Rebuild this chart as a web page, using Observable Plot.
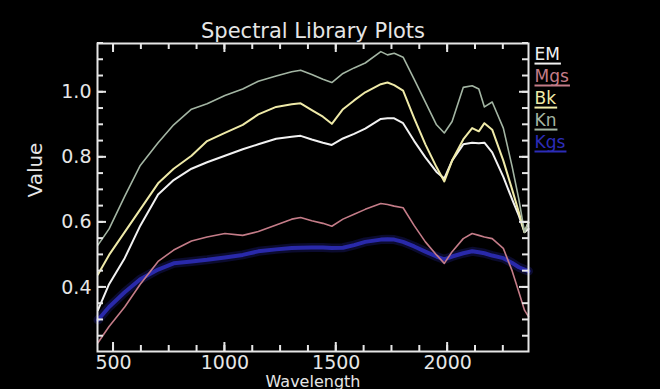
<!DOCTYPE html>
<html><head><meta charset="utf-8">
<script src="https://cdn.jsdelivr.net/npm/d3@7"></script>
<script src="https://cdn.jsdelivr.net/npm/@observablehq/plot@0.6"></script>
<style>
html,body{margin:0;padding:0;background:#000;}
#chart{width:660px;height:389px;overflow:hidden}
</style></head><body><div id="chart"></div>
<script>
const title = "Spectral Library Plots";
const xLabel = "Wavelength";
const yLabel = "Value";
const seriesNames = ["EM", "Mgs", "Bk", "Kn", "Kgs"];
const seriesColors = ["#f2f2f2", "#c47c88", "#efeaa8", "#a3b5a3", "#2c2cb8"];

const wavelength = [430, 480, 550, 620, 700, 770, 850, 920, 1000, 1080, 1150, 1230, 1300, 1340, 1390, 1440, 1480, 1530, 1580, 1630, 1700, 1730, 1760, 1800, 1850, 1900, 1950, 1985, 2020, 2070, 2110, 2140, 2165, 2200, 2250, 2290, 2320, 2345, 2363];
const emValues  = [0.33, 0.41, 0.49, 0.59, 0.686, 0.73, 0.765, 0.785, 0.805, 0.825, 0.84, 0.857, 0.863, 0.866, 0.855, 0.845, 0.838, 0.858, 0.872, 0.888, 0.918, 0.92, 0.92, 0.905, 0.85, 0.80, 0.755, 0.735, 0.79, 0.84, 0.845, 0.843, 0.845, 0.815, 0.74, 0.67, 0.62, 0.57, 0.58];
const mgsValues = [0.23, 0.28, 0.34, 0.41, 0.48, 0.515, 0.543, 0.555, 0.566, 0.56, 0.572, 0.592, 0.61, 0.615, 0.605, 0.597, 0.588, 0.61, 0.625, 0.64, 0.658, 0.655, 0.65, 0.645, 0.59, 0.54, 0.50, 0.474, 0.51, 0.55, 0.566, 0.56, 0.555, 0.55, 0.52, 0.45, 0.385, 0.33, 0.31];
const bkValues  = [0.44, 0.50, 0.57, 0.64, 0.72, 0.765, 0.805, 0.85, 0.875, 0.90, 0.932, 0.955, 0.963, 0.966, 0.945, 0.925, 0.903, 0.948, 0.975, 1.0, 1.025, 1.03, 1.022, 1.005, 0.92, 0.84, 0.77, 0.726, 0.79, 0.855, 0.89, 0.88, 0.905, 0.885, 0.79, 0.70, 0.63, 0.57, 0.60];
const knValues  = [0.53, 0.58, 0.68, 0.775, 0.845, 0.90, 0.948, 0.965, 0.99, 1.01, 1.034, 1.05, 1.063, 1.068, 1.055, 1.04, 1.03, 1.058, 1.075, 1.09, 1.125, 1.115, 1.12, 1.108, 1.04, 0.97, 0.90, 0.875, 0.91, 1.015, 1.02, 1.01, 0.955, 0.97, 0.89, 0.77, 0.67, 0.57, 0.60];
const kgsValues = [0.30, 0.34, 0.385, 0.425, 0.455, 0.474, 0.48, 0.485, 0.492, 0.50, 0.511, 0.517, 0.521, 0.522, 0.523, 0.523, 0.521, 0.522, 0.53, 0.54, 0.547, 0.548, 0.547, 0.54, 0.526, 0.51, 0.495, 0.486, 0.495, 0.505, 0.511, 0.508, 0.505, 0.498, 0.49, 0.475, 0.462, 0.455, 0.45];
const seriesValues = [emValues, mgsValues, bkValues, knValues, kgsValues];

const xTickLabels = [500, 1000, 1500, 2000];
const yTickLabels = [0.4, 0.6, 0.8, 1.0];
const xDomain = [428, 2363];
const yDomain = [0.203, 1.15];
const xMinorStep = 125;
const yMinorStep = 0.05;

const W = 660, H = 389;
const M = {top: 43, right: 132, bottom: 38, left: 97};
const fg = "#e6e6e6";
const font = "DejaVu Sans, Verdana, sans-serif";

const rows = seriesNames.flatMap((name, i) => wavelength.map((w, j) => ({series: name, w, v: seriesValues[i][j]})));
const bySeries = name => rows.filter(d => d.series === name);
const colorOf = name => seriesColors[seriesNames.indexOf(name)];

const xMinor = d3.range(xTickLabels[0], xDomain[1], xMinorStep);
const yMinor = d3.range(Math.ceil(yDomain[0] / yMinorStep), Math.floor(yDomain[1] / yMinorStep + 1e-6) + 1).map(k => Math.round(k * yMinorStep * 100) / 100);

const legendMarks = seriesNames.map((name, i) =>
  Plot.text([name], {frameAnchor: "top-right", dx: 6, dy: 4 + i * 22, textAnchor: "start", lineAnchor: "top",
    fill: seriesColors[i], fontSize: 17, fontFamily: font})
);

const plot = Plot.plot({
  width: W, height: H,
  marginTop: M.top, marginRight: M.right, marginBottom: M.bottom, marginLeft: M.left,
  style: {background: "#000", color: fg, fontFamily: font},
  x: {domain: xDomain},
  y: {domain: yDomain},
  marks: [
    Plot.line(bySeries("Kgs"), {x: "w", y: "v", stroke: colorOf("Kgs"), strokeWidth: 9, strokeOpacity: 0.25}),
    Plot.line(bySeries("Kgs"), {x: "w", y: "v", stroke: colorOf("Kgs"), strokeWidth: 4, strokeOpacity: 0.9}),
    Plot.line(bySeries("Mgs"), {x: "w", y: "v", stroke: colorOf("Mgs"), strokeWidth: 1.6}),
    Plot.line(bySeries("EM"), {x: "w", y: "v", stroke: colorOf("EM"), strokeWidth: 2}),
    Plot.line(bySeries("Bk"), {x: "w", y: "v", stroke: colorOf("Bk"), strokeWidth: 2}),
    Plot.line(bySeries("Kn"), {x: "w", y: "v", stroke: colorOf("Kn"), strokeWidth: 1.6}),
    Plot.frame({stroke: fg, strokeWidth: 2}),
    Plot.axisX({ticks: xTickLabels, tickSize: 0, tickPadding: 4, tickFormat: d => String(d), label: null, fontSize: 19, fontFamily: font}),
    Plot.axisY({ticks: yTickLabels, tickSize: 0, tickPadding: 6, tickFormat: d => d.toFixed(1), label: null, fontSize: 19, fontFamily: font}),
    Plot.text([title], {frameAnchor: "top", dy: -6, lineAnchor: "bottom", fontSize: 21, fontFamily: font, fill: fg}),
    Plot.text([xLabel], {frameAnchor: "bottom", dy: 35, lineAnchor: "bottom", fontSize: 16, fontFamily: font, fill: fg}),
    Plot.text([yLabel], {frameAnchor: "left", dx: -62, rotate: -90, fontSize: 20, fontFamily: font, fill: fg}),
    ...legendMarks
  ]
});
document.getElementById("chart").appendChild(plot);

// inward ticks on all four sides, placed with the plot's own scales
try {
  const sx = plot.scale("x"), sy = plot.scale("y");
  const xl = sx.apply(xDomain[0]), xr = sx.apply(xDomain[1]);
  const yb = sy.apply(yDomain[0]), yt = sy.apply(yDomain[1]);
  const majorLen = 9, minorLen = 6;
  const g = d3.select(plot).append("g").attr("stroke", fg).attr("stroke-width", 2).attr("fill", "none");
  for (const [vals, len] of [[xMinor, minorLen], [xTickLabels, majorLen]]) {
    for (const v of vals) {
      const px = sx.apply(v);
      g.append("path").attr("d", `M${px},${yb}V${yb - len}`);
      g.append("path").attr("d", `M${px},${yt}V${yt + len}`);
    }
  }
  for (const [vals, len] of [[yMinor, minorLen], [yTickLabels, majorLen]]) {
    for (const v of vals) {
      const py = sy.apply(v);
      g.append("path").attr("d", `M${xl},${py}H${xl + len}`);
      g.append("path").attr("d", `M${xr},${py}H${xr - len}`);
    }
  }
} catch (e) {}

// underline each legend entry, sized to its text
d3.select(plot).selectAll("text").each(function () {
  const i = seriesNames.indexOf(this.textContent);
  if (i < 0) return;
  const b = this.getBBox();
  const m = this.getCTM();
  const yy = b.y + b.height;
  const p1 = {x: m.a * b.x + m.c * yy + m.e, y: m.b * b.x + m.d * yy + m.f};
  const p2 = {x: m.a * (b.x + b.width + 1) + m.c * yy + m.e, y: m.b * (b.x + b.width + 1) + m.d * yy + m.f};
  d3.select(plot).append("path")
    .attr("d", `M${p1.x},${p1.y}L${p2.x},${p2.y}`)
    .attr("fill", "none").attr("stroke", seriesColors[i]).attr("stroke-width", 2);
});
</script>
</body></html>
